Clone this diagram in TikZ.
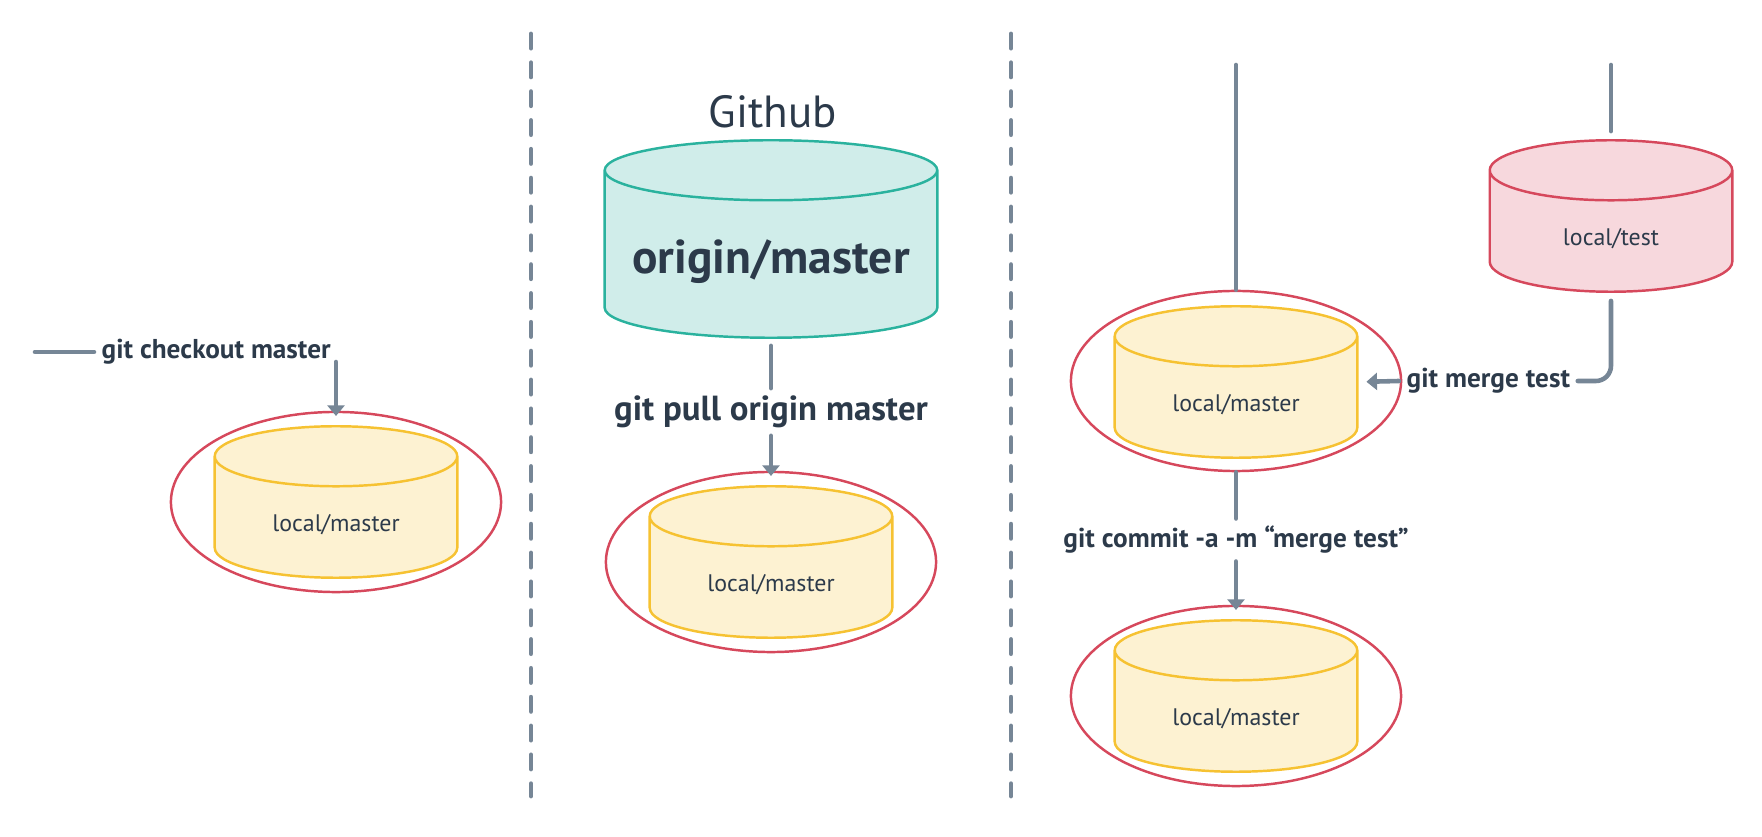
\documentclass[tikz,border=0pt]{standalone}
\usepackage{fontspec}
\setmainfont{PT Sans}
\usetikzlibrary{shapes.geometric,arrows.meta,calc,backgrounds}
\definecolor{ink}{RGB}{44,58,74}
\definecolor{slate}{RGB}{118,134,150}
\definecolor{ring}{RGB}{214,72,92}
\definecolor{gold}{RGB}{246,194,50}
\definecolor{cream}{RGB}{253,242,210}
\definecolor{aqua}{RGB}{42,178,158}
\definecolor{mint}{RGB}{208,237,234}
\definecolor{rose}{RGB}{247,216,221}
\tikzset{
  drum/.style={rectangle, inner sep=0pt, minimum width=2.41cm, minimum height=1.5cm,
    text=ink, font=\fontsize{6.8}{8.2}\selectfont, text height=17pt, text depth=0pt},
  yolk/.style={draw=gold, fill=cream, line width=0.7pt},
  sea/.style={draw=aqua, fill=mint, line width=0.7pt},
  blush/.style={draw=ring, fill=rose, line width=0.7pt},
  hoop/.style={ellipse, draw=ring, line width=0.7pt, inner sep=0pt,
    minimum width=3.3cm, minimum height=1.8cm},
  cmd/.style={text=ink, font=\bfseries\fontsize{7.75}{9.3}\selectfont, inner sep=2pt},
  wire/.style={draw=slate, line width=1.3pt, line cap=round},
  push/.style={wire, -{Triangle[width=4.8pt,length=3pt]}},
  split/.style={draw=slate, line width=1.4pt, line cap=round, dash pattern=on 4pt off 4.2pt}
}
% cylinder drawn round the box of a named node
\newcommand{\drum}[2]{%
  \filldraw[#2] let \p1=(#1.north west), \p2=(#1.south east), \n1={(\x2-\x1)/2} in
    (\x1,\y1-0.3cm) -- (\x1,\y2+0.3cm)
    arc[start angle=180, end angle=360, x radius=\n1, y radius=0.3cm]
    -- (\x2,\y1-0.3cm)
    arc[start angle=0, end angle=180, x radius=\n1, y radius=0.3cm] -- cycle
    (\x1,\y1-0.3cm) arc[start angle=180, end angle=360, x radius=\n1, y radius=0.3cm];
}
\begin{document}
\begin{tikzpicture}[x=0.01cm, y=-0.01cm]
      \useasboundingbox (0,0) rectangle (1762,837);

      \coordinate (d1) at (531,34);
      \coordinate (d2) at (531,796);
      \coordinate (d3) at (1011,34);
      \coordinate (d4) at (1011,796);
      \draw[split] (d1) -- (d2);
      \draw[split] (d3) -- (d4);

      \node[hoop] (e1) at (336,502) {};
      \node[drum] (l1) at (336,502) {local/master};
      \node[cmd, anchor=west] (g1) at (94,352) {git checkout master};
      \coordinate (s1) at (35,352);
      \coordinate (s2) at (336,362);
      \draw[wire] (s1) -- (g1);
      \draw[push, shorten >=-1.5pt] (s2) -- (e1.north);

      \node (hub) at (773,112) [text=ink, font=\fontsize{12.8}{15.4}\selectfont] {Github};
      \node[drum, minimum width=3.31cm, minimum height=1.96cm, text height=19.7pt,
        font=\bfseries\fontsize{13.5}{16.2}\selectfont] (o1) at (771,239) {origin/master};
      \node[cmd, font=\bfseries\fontsize{9.9}{11.9}\selectfont] (g2) at (771,412) {git pull origin master};
      \node[hoop] (e2) at (771,562) {};
      \node[drum] (l2) at (771,562) {local/master};
      \draw[wire, shorten <=2.3pt] (o1.south) -- (g2.north);
      \draw[push, shorten >=-1.5pt] (g2) -- (e2.north);

      \node[hoop] (e3) at (1236,381) {};
      \node[drum] (l3) at (1236,382) {local/master};
      \node[drum] (t1) at (1611,216) {local/test};
      \coordinate (s3) at (1236,65);
      \coordinate (s4) at (1611,65);
      \draw[wire] (s3) -- (e3.north);
      \draw[wire, shorten >=2.6pt] (s4) -- (t1.north);
      \node[cmd, anchor=west] (g3) at (1399,381) {git merge test};
      \draw[wire, rounded corners=4.3pt, shorten <=2.6pt] (t1.south) |- (g3.east);
      \draw[push, shorten >=2.6pt] (g3.west) -- (l3.east);

      \node[cmd] (g4) at (1236,540) {git commit -a -m “merge test”};
      \node[hoop] (e4) at (1236,696) {};
      \node[drum] (l4) at (1236,696) {local/master};
      \draw[wire] (e3.south) -- (g4.north);
      \draw[push, shorten >=-1.5pt] (g4) -- (e4.north);

      \begin{scope}[on background layer]
        \drum{l1}{yolk}
        \drum{l2}{yolk}
        \drum{l3}{yolk}
        \drum{l4}{yolk}
        \drum{o1}{sea}
        \drum{t1}{blush}
      \end{scope}
\end{tikzpicture}
\end{document}
